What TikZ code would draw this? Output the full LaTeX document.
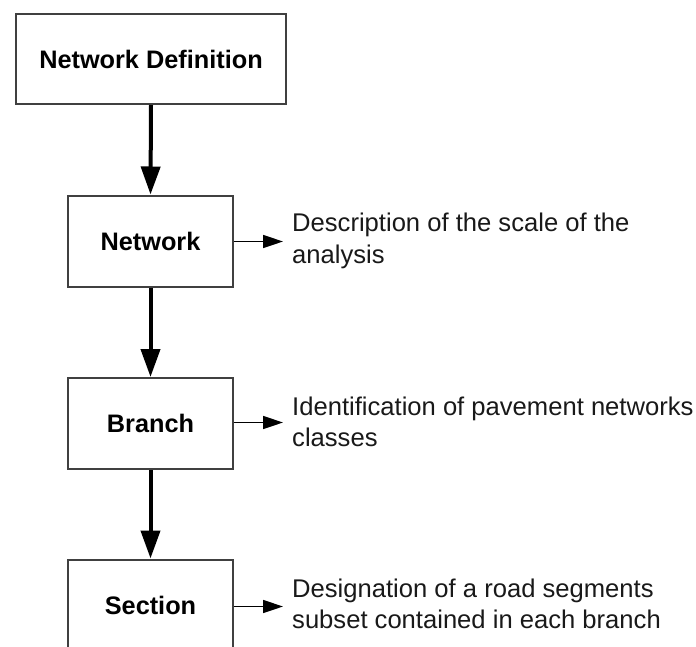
\documentclass[tikz,border=0pt]{standalone}
\usepackage{fontspec}
\setmainfont{Liberation Sans}
\usetikzlibrary{arrows.meta}

\tikzset{
  level/.style={draw=black!75, line width=2pt, fill=white, minimum width=165pt,
    minimum height=91pt, inner sep=0pt, font=\fontsize{25.3}{31}\selectfont\bfseries},
  flow/.style={line width=4pt, -{Triangle[length=28pt,width=19pt]}},
  note/.style={line width=1.6pt, -{Triangle[length=20pt,width=13pt]}},
  desc/.style={anchor=west, align=left, inner sep=0pt,
    font=\fontsize{25.6}{31.5}\selectfont, text=black!90},
}

\begin{document}
\begin{tikzpicture}[x=1pt, y=-1pt]
  \clip (0,0) rectangle (696,646);
  \fill[white] (0,0) rectangle (696,646);

  % hierarchy of levels
  \node[level, minimum width=270pt, minimum height=90pt] (def) at (151,59) {Network Definition};
  \node[level] (net) at (150.5,241) {Network};
  \node[level] (br) at (150.5,423.5) {Branch};
  \node[level] (sec) at (150.5,605) {Section};

  % vertical flow between levels
  \draw[flow] (def.south) -- (net.north);
  \draw[flow] (net.south) -- (br.north);
  \draw[flow] (br.south) -- (sec.north);

  % side descriptions
  \coordinate (tn) at (283,241.5);
  \coordinate (tb) at (283,422.5);
  \coordinate (ts) at (283,606.5);
  \draw[note] (net.east |- tn) -- (tn);
  \draw[note] (br.east |- tb) -- (tb);
  \draw[note] (sec.east |- ts) -- (ts);

  \node[desc] (dn) at (292,241) {Description of the scale of the\\analysis};
  \node[desc] (db) at (292,422) {Identification of pavement networks\\classes};
  \node[desc] (ds) at (292,604) {Designation of a road segments\\subset contained in each branch};
\end{tikzpicture}
\end{document}
